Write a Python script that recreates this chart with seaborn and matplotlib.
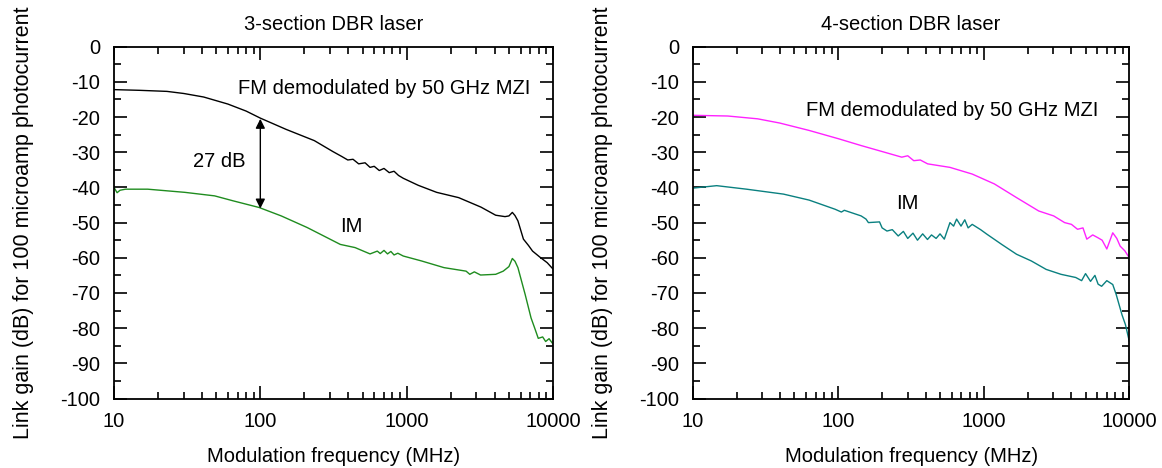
# Link gain vs modulation frequency, 3- and 4-section DBR lasers

import numpy as np
import pandas as pd
import matplotlib
matplotlib.use('Agg')
import matplotlib.pyplot as plt
import matplotlib.ticker as mticker
import seaborn as sns

# Left panel: 3-section DBR laser
fm3_freq = [10, 15, 23, 30, 41, 60, 80, 100, 150, 234, 313, 360, 396, 430, 470, 520,
            562, 600, 650, 700, 760, 820, 880, 948, 1200, 1603, 2266, 3220, 4058, 4700,
            5000, 5275, 5500, 5758, 6280, 6800, 7250, 8130, 9130, 10000]
fm3_gain = [-12.2, -12.4, -12.7, -13.3, -14.3, -16.3, -18.3, -20.3, -23.5, -26.7, -29.8,
            -31.2, -32.2, -32.0, -33.3, -33.0, -34.3, -34.0, -35.2, -34.6, -35.8, -35.4,
            -36.6, -37.4, -39.4, -41.4, -42.9, -45.6, -47.9, -48.3, -48.1, -47.1, -48.0,
            -49.5, -54.7, -56.5, -58.1, -59.8, -61.4, -63.2]

im3_freq = [10, 10.5, 11, 12, 17, 30.5, 48.7, 65, 98, 139, 209, 352, 444, 562, 630, 660,
            700, 740, 780, 820, 870, 948, 1263, 1800, 2548, 2700, 2900, 3200, 4058, 4570,
            5000, 5275, 5500, 5758, 6460, 7080, 7500, 7930, 8500, 8910, 9400, 10000]
im3_gain = [-40.0, -41.5, -40.8, -40.5, -40.5, -41.4, -42.4, -43.8, -45.7, -48.1, -51.4,
            -56.2, -57.1, -58.9, -58.1, -58.8, -57.9, -58.9, -58.2, -59.2, -58.7, -59.5,
            -60.9, -62.8, -63.8, -64.7, -64.0, -64.9, -64.7, -63.8, -62.5, -60.2, -61.0,
            -62.8, -70.5, -77.1, -80.0, -82.9, -82.5, -83.8, -83.0, -84.5]

# Right panel: 4-section DBR laser
fm4_freq = [10, 17.4, 27.9, 39.6, 63, 101, 143.5, 204, 273, 300, 330, 366, 411, 585, 832,
            1181, 1679, 2384, 3020, 3590, 4000, 4406, 4800, 5100, 5600, 6080, 6500, 6840,
            7000, 7690, 8200, 8650, 9300, 10000]
fm4_gain = [-19.5, -19.7, -20.5, -21.7, -23.8, -26.2, -28.1, -29.9, -31.4, -31.0, -32.4,
            -32.2, -33.3, -34.3, -36.2, -39.0, -42.9, -46.7, -48.1, -50.0, -50.5, -51.9,
            -51.5, -54.7, -53.5, -54.3, -55.0, -56.7, -57.5, -52.9, -54.5, -56.7, -58.0,
            -60.0]

im4_freq = [10, 14.6, 23.4, 42, 63, 95, 105, 110, 143.5, 155, 161, 192, 200, 216, 235, 258,
            280, 300, 326, 350, 380, 410, 437, 470, 500, 535, 585, 620, 650, 697, 740, 780,
            832, 950, 1050, 1327, 1679, 2120, 2680, 3390, 4280, 4700, 5000, 5410, 5800,
            6100, 6450, 7000, 7690, 8130, 8900, 9400, 10000]
im4_gain = [-40.2, -39.5, -40.5, -41.9, -43.6, -46.2, -47.0, -46.5, -48.1, -49.0, -50.0,
            -49.8, -51.5, -52.4, -52.0, -53.8, -52.5, -54.5, -53.0, -55.0, -53.2, -54.8,
            -53.5, -54.5, -53.2, -54.7, -50.0, -51.0, -49.0, -51.0, -49.2, -51.5, -50.5,
            -52.0, -53.3, -56.2, -59.0, -60.9, -63.3, -64.7, -65.6, -66.5, -64.5, -66.7,
            -65.0, -67.5, -68.1, -66.5, -67.6, -70.5, -76.2, -79.0, -83.8]

titles = ['3-section DBR laser', '4-section DBR laser']
xlabel = 'Modulation frequency (MHz)'
ylabel = 'Link gain (dB) for 100 microamp photocurrent'
fm_label = 'FM demodulated by 50 GHz MZI'


def make_df(fm_f, fm_g, im_f, im_g):
    return pd.concat([
        pd.DataFrame({'freq': fm_f, 'gain': fm_g, 'curve': 'FM'}),
        pd.DataFrame({'freq': im_f, 'gain': im_g, 'curve': 'IM'}),
    ], ignore_index=True)


left_df = make_df(fm3_freq, fm3_gain, im3_freq, im3_gain)
right_df = make_df(fm4_freq, fm4_gain, im4_freq, im4_gain)

sns.set_style('ticks')
plt.rcParams['font.family'] = ['Liberation Sans', 'DejaVu Sans']
plt.rcParams['axes.unicode_minus'] = False
plt.rcParams['text.color'] = 'black'
plt.rcParams['axes.labelcolor'] = 'black'
plt.rcParams['xtick.color'] = 'black'
plt.rcParams['ytick.color'] = 'black'
FS = 14.5

fig = plt.figure(figsize=(11.62, 4.68), dpi=100)
ax1 = fig.add_axes([0.0981, 0.1485, 0.3778, 0.7517])
ax2 = fig.add_axes([0.5962, 0.1485, 0.3757, 0.7517])

sns.lineplot(data=left_df, x='freq', y='gain', hue='curve', estimator=None,
             palette={'FM': 'black', 'IM': '#1f8c1f'}, linewidth=1.0,
             legend=False, ax=ax1)
sns.lineplot(data=right_df, x='freq', y='gain', hue='curve', estimator=None,
             palette={'FM': '#ff22ff', 'IM': '#0a8080'}, linewidth=1.0,
             legend=False, ax=ax2)

for ax, title in zip([ax1, ax2], titles):
    ax.set_xscale('log')
    ax.set_xlim(10, 10000)
    ax.set_ylim(-100, 0)
    ax.set_xticks([10, 100, 1000, 10000], labels=['10', '100', '1000', '10000'])
    ax.xaxis.set_minor_locator(mticker.LogLocator(base=10, subs=np.arange(2, 10)))
    ax.xaxis.set_minor_formatter(mticker.NullFormatter())
    ax.set_yticks(np.arange(-100, 1, 10))
    ax.yaxis.set_minor_locator(mticker.MultipleLocator(5))
    ax.tick_params(which='both', direction='in', top=True, right=True, width=1.2,
                   labelsize=FS, color='black', labelcolor='black')
    ax.tick_params(which='major', length=9.5)
    ax.tick_params(which='minor', length=5)
    ax.tick_params(axis='x', which='major', pad=9.5)
    ax.tick_params(axis='y', which='major', pad=10)
    for s in ax.spines.values():
        s.set_linewidth(1.3)
        s.set_color('black')
    ax.set_title(title, fontsize=FS, pad=12, color='black')
    ax.set_xlabel(xlabel, fontsize=FS, labelpad=12)
    ax.set_ylabel(ylabel, fontsize=15.5, labelpad=19)

# annotations, left panel
ax1.text(70, -11.8, fm_label, ha='left', va='center', fontsize=FS)
ax1.text(52, -32.5, '27 dB', ha='center', va='center', fontsize=FS)
ax1.text(417, -51, 'IM', ha='center', va='center', fontsize=FS)
ax1.annotate('', xy=(100, -20.5), xytext=(100, -46),
             arrowprops=dict(arrowstyle='<|-|>', color='black', lw=1.0,
                             mutation_scale=14, shrinkA=0, shrinkB=0))

# annotations, right panel
ax2.text(60, -18.1, fm_label, ha='left', va='center', fontsize=FS)
ax2.text(298, -44.7, 'IM', ha='center', va='center', fontsize=FS)

fig.savefig('out.png', dpi=100)
